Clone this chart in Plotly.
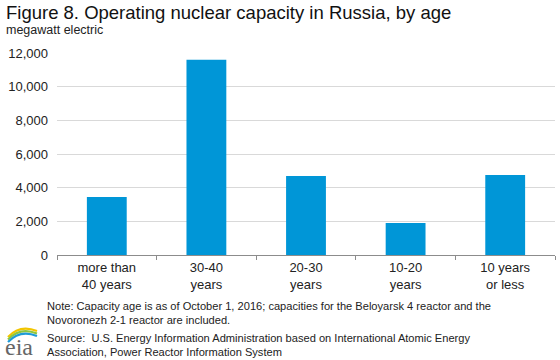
import plotly.graph_objects as go

categories = ["more than<br>40 years", "30-40<br>years", "20-30<br>years", "10-20<br>years", "10 years<br>or less"]
capacity_mw = [3450, 11600, 4700, 1900, 4750]
y_ticks = [0, 2000, 4000, 6000, 8000, 10000, 12000]
y_tick_labels = ["0", "2,000", "4,000", "6,000", "8,000", "10,000", "12,000"]

W, H = 560, 360
L, R, T, B = 57, 5, 53, 105
PW, PH = W - L - R, H - T - B

def px(x):
    return (x - L) / PW

def py(y):
    return (H - B - y) / PH

FONT = "Arial, Liberation Sans, sans-serif"

fig = go.Figure(go.Bar(x=categories, y=capacity_mw, marker_color="#0096D7",
                       marker_line_width=0, hoverinfo="skip"))

fig.update_layout(
    width=W, height=H,
    margin=dict(l=L, r=R, t=T, b=B, autoexpand=False),
    plot_bgcolor="white", paper_bgcolor="white",
    bargap=0.6,
    showlegend=False,
    font=dict(family=FONT, color="#222", size=13),
)
fig.update_yaxes(range=[0, 12000], tickvals=y_ticks, ticktext=y_tick_labels,
                 showgrid=True, gridcolor="#D9D9D9", gridwidth=1,
                 zeroline=False, showline=False, ticks="", ticklen=0,
                 ticklabelstandoff=8,
                 tickfont=dict(size=13, color="#222"))
fig.update_xaxes(showline=True, linecolor="#8C8C8C", linewidth=1,
                 ticks="outside", ticklen=4, tickcolor="#8C8C8C",
                 tickson="boundaries", showgrid=False,
                 tickfont=dict(size=13, color="#222"))

ann = [
    dict(text="Figure 8. Operating nuclear capacity in Russia, by age", x=px(4), y=py(12),
         font=dict(size=18.5, color="#111")),
    dict(text="megawatt electric", x=px(4), y=py(30), font=dict(size=12.5, color="#222")),
    dict(text="Note: Capacity age is as of October 1, 2016; capacities for the Beloyarsk 4 reactor and the",
         x=px(45), y=py(306), font=dict(size=11.1, color="#222")),
    dict(text="Novoronezh 2-1 reactor are included.", x=px(45), y=py(320), font=dict(size=11.1, color="#222")),
    dict(text="Source:  U.S. Energy Information Administration based on International Atomic Energy",
         x=px(45), y=py(338), font=dict(size=11.1, color="#222")),
    dict(text="Association, Power Reactor Information System", x=px(45), y=py(352),
         font=dict(size=11.1, color="#222")),
    dict(text="eia", x=px(3), y=py(347), font=dict(size=24, color="#666", family="Liberation Serif, serif")),
]
for a in ann:
    fig.add_annotation(xref="paper", yref="paper", xanchor="left", yanchor="middle",
                       showarrow=False, **a)

# EIA logo arcs
arcs = [("#F2C500", 334), ("#8DC63F", 336.5), ("#1E9BD7", 339)]
for color, ybase in arcs:
    x0, x1 = 8, 37
    path = (f"M {px(x0)},{py(ybase + 3)} Q {px(20)},{py(ybase - 10)} {px(x1)},{py(ybase - 3)}")
    fig.add_shape(type="path", xref="paper", yref="paper", path=path,
                  line=dict(color=color, width=2.2))

fig.write_html("out.html", config={"displayModeBar": False},
               post_script="document.body.style.margin='0';document.body.style.overflow='hidden';")
